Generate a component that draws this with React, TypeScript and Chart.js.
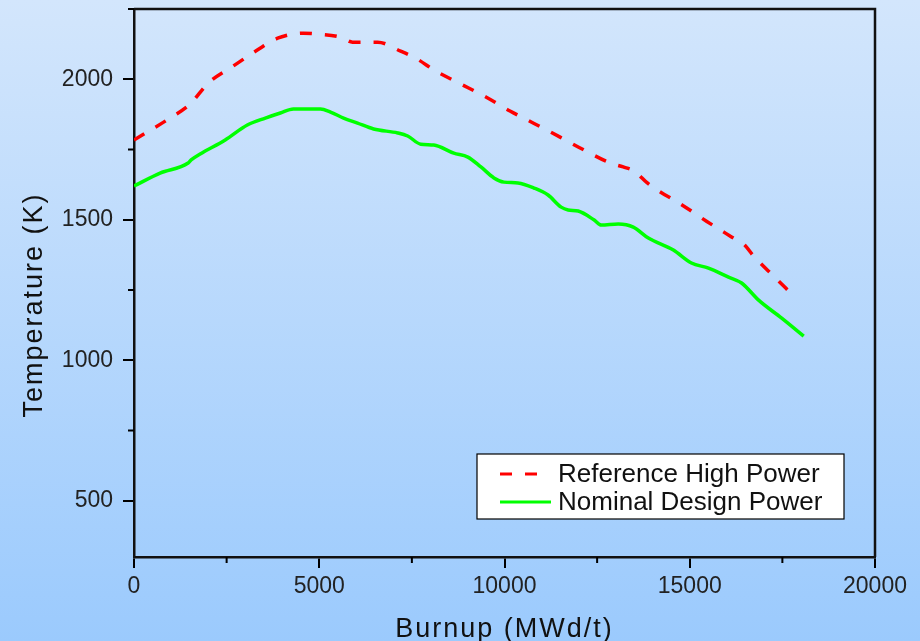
import React, { useEffect, useRef } from "react";
import { Chart, registerables } from "chart.js";

Chart.register(...registerables);

// Burnup (MWd/t) and fuel temperature (K) for each operating case
const burnupHigh = [0, 974, 1515, 2002, 2679, 3328, 3897, 4573, 4952, 5574, 5899, 6576, 7198, 7604, 8145, 8822, 9498, 10148, 10824, 11501, 12150, 12853, 13205, 13503, 13855, 14125, 14802, 15451, 16128, 16480, 16723, 17291, 17751];
const tempHigh = [1784, 1862, 1912, 1986, 2047, 2104, 2147, 2164, 2161, 2150, 2132, 2132, 2100, 2075, 2029, 1983, 1937, 1887, 1841, 1794, 1748, 1702, 1688, 1673, 1631, 1606, 1552, 1495, 1439, 1410, 1371, 1296, 1236];

const burnupNominal = [0, 704, 1461, 1542, 1786, 2462, 3058, 3545, 3951, 4303, 5033, 5304, 5656, 6034, 6467, 7117, 7387, 7739, 8091, 8632, 9011, 9363, 9715, 9985, 10364, 10797, 11176, 11528, 11717, 11988, 12421, 12610, 13070, 13476, 13882, 14558, 15045, 15505, 16047, 16399, 16858, 17481, 18076];
const tempNominal = [1620, 1666, 1702, 1713, 1734, 1784, 1837, 1862, 1880, 1894, 1894, 1883, 1862, 1844, 1823, 1809, 1798, 1769, 1766, 1737, 1723, 1688, 1649, 1634, 1631, 1613, 1588, 1545, 1535, 1531, 1499, 1481, 1485, 1474, 1435, 1392, 1346, 1328, 1296, 1275, 1214, 1150, 1086];

const seriesNames = ["Reference High Power", "Nominal Design Power"];

const xMajorTicks = [0, 5000, 10000, 15000, 20000];
const xMinorTicks = [2500, 7500, 12500, 17500];
const yMajorTicks = [500, 1000, 1500, 2000];
const yMinorTicks = [750, 1250, 1750, 2250];

const xTitle = "Burnup (MWd/t)";
const yTitle = "Temperature (K)";

const FONT = '"Liberation Sans", Arial, Helvetica, sans-serif';

const decorPlugin = {
  id: "decor",
  beforeDraw(chart: any) {
    const { ctx, width, height } = chart;
    const g = ctx.createLinearGradient(0, 0, 0, height);
    g.addColorStop(0, "#d3e6fc");
    g.addColorStop(1, "#9bcafd");
    ctx.save();
    ctx.fillStyle = g;
    ctx.fillRect(0, 0, width, height);
    ctx.restore();
  },
  afterDraw(chart: any) {
    const { ctx, chartArea: a, scales } = chart;
    const xs = scales.x;
    const ys = scales.y;
    ctx.save();

    // minor ticks
    ctx.strokeStyle = "#000";
    ctx.lineWidth = 2;
    ctx.beginPath();
    yMinorTicks.forEach((v) => {
      const py = ys.getPixelForValue(v);
      ctx.moveTo(a.left - 6, py);
      ctx.lineTo(a.left, py);
    });
    xMinorTicks.forEach((v) => {
      const px = xs.getPixelForValue(v);
      ctx.moveTo(px, a.bottom);
      ctx.lineTo(px, a.bottom + 6);
    });
    ctx.stroke();

    // top and right edges of the frame
    ctx.lineWidth = 2.5;
    ctx.strokeStyle = "#111";
    ctx.beginPath();
    ctx.moveTo(a.left, a.top);
    ctx.lineTo(a.right, a.top);
    ctx.lineTo(a.right, a.bottom);
    ctx.stroke();

    // axis titles
    ctx.fillStyle = "#111";
    ctx.font = `27px ${FONT}`;
    (ctx as any).letterSpacing = "2px";
    ctx.textAlign = "center";
    ctx.textBaseline = "alphabetic";
    ctx.fillText(xTitle, (a.left + a.right) / 2, 637);
    ctx.save();
    ctx.translate(42, 305);
    ctx.rotate(-Math.PI / 2);
    ctx.fillText(yTitle, 0, 0);
    ctx.restore();
    (ctx as any).letterSpacing = "0px";

    // legend
    const bx = a.right - 398;
    const by = a.bottom - 103;
    const bw = 367;
    const bh = 65;
    ctx.fillStyle = "#fff";
    ctx.fillRect(bx, by, bw, bh);
    ctx.strokeStyle = "#000";
    ctx.lineWidth = 1.2;
    ctx.strokeRect(bx, by, bw, bh);
    ctx.font = `26px ${FONT}`;
    ctx.textAlign = "left";
    ctx.textBaseline = "middle";
    chart.data.datasets.forEach((ds: any, i: number) => {
      const cy = by + 20 + i * 28;
      ctx.strokeStyle = ds.borderColor;
      ctx.lineWidth = 3;
      ctx.setLineDash(ds.borderDash || []);
      ctx.beginPath();
      ctx.moveTo(bx + 23, cy);
      ctx.lineTo(bx + (ds.borderDash ? 61 : 74), cy);
      ctx.stroke();
      ctx.setLineDash([]);
      ctx.fillStyle = "#111";
      ctx.fillText(ds.label, bx + 81, cy + 1);
    });

    ctx.restore();
  },
};

export default function App() {
  const canvasRef = useRef<HTMLCanvasElement | null>(null);

  useEffect(() => {
    if (!canvasRef.current) return;
    const chart = new Chart(canvasRef.current, {
      type: "line",
      data: {
        datasets: [
          {
            label: seriesNames[0],
            data: burnupHigh.map((x, i) => ({ x, y: tempHigh[i] })),
            borderColor: "#ff0000",
            borderWidth: 3.5,
            borderDash: [12, 13],
            pointRadius: 0,
            cubicInterpolationMode: "monotone",
            fill: false,
          },
          {
            label: seriesNames[1],
            data: burnupNominal.map((x, i) => ({ x, y: tempNominal[i] })),
            borderColor: "#00ff00",
            borderWidth: 3.5,
            pointRadius: 0,
            cubicInterpolationMode: "monotone",
            fill: false,
          },
        ],
      },
      options: {
        animation: false,
        responsive: false,
        layout: { padding: { top: 9, right: 45, left: 0, bottom: 0 } },
        plugins: {
          legend: { display: false },
          tooltip: { enabled: false },
        },
        scales: {
          x: {
            type: "linear",
            min: 0,
            max: 20000,
            afterBuildTicks: (s: any) => {
              s.ticks = xMajorTicks.map((value) => ({ value }));
            },
            afterFit: (s: any) => {
              s.height = 84;
              s.paddingLeft = 0;
              s.paddingRight = 0;
            },
            grid: {
              display: true,
              drawOnChartArea: false,
              drawTicks: true,
              tickLength: 11,
              color: "#000",
              lineWidth: 2,
            },
            border: { display: true, color: "#111", width: 2.5 },
            ticks: {
              padding: 5,
              color: "#222",
              font: { family: FONT, size: 23 },
              maxRotation: 0,
              callback: (v: any) => String(v),
            },
          },
          y: {
            type: "linear",
            min: 300,
            max: 2250,
            afterBuildTicks: (s: any) => {
              s.ticks = yMajorTicks.map((value) => ({ value }));
            },
            afterFit: (s: any) => {
              s.width = 134;
              s.paddingTop = 0;
              s.paddingBottom = 0;
            },
            grid: {
              display: true,
              drawOnChartArea: false,
              drawTicks: true,
              tickLength: 11,
              color: "#000",
              lineWidth: 2,
            },
            border: { display: true, color: "#111", width: 2.5 },
            ticks: {
              padding: 10,
              color: "#222",
              font: { family: FONT, size: 23 },
              callback: (v: any) => String(v),
            },
          },
        },
      },
      plugins: [decorPlugin],
    });
    return () => chart.destroy();
  }, []);

  return (
    <div style={{ position: "absolute", left: 0, top: 0, width: 920, height: 641 }}>
      <canvas ref={canvasRef} width={920} height={641} style={{ display: "block" }} />
    </div>
  );
}
